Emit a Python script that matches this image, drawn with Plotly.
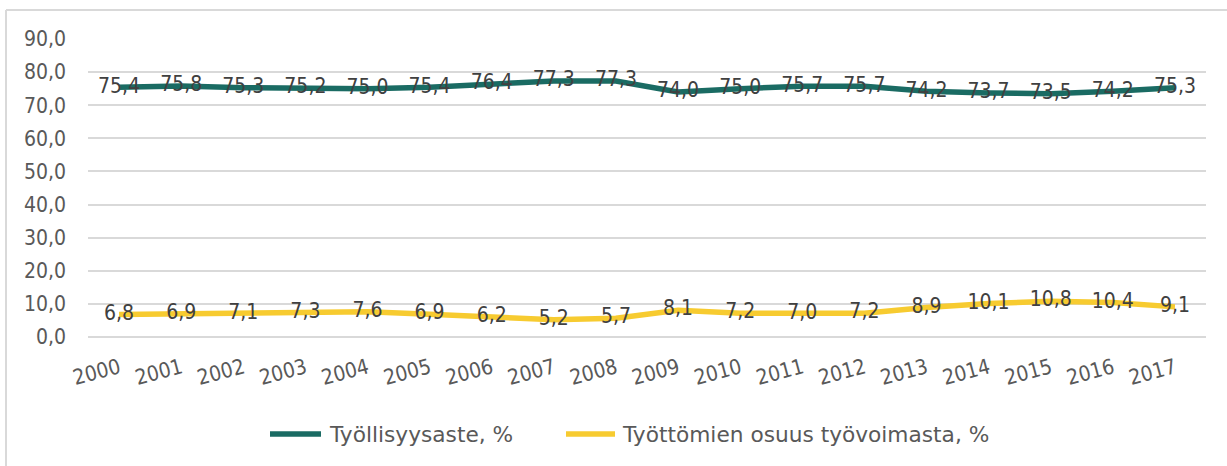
import plotly.graph_objects as go

years = [str(y) for y in range(2000, 2018)]
tyollisyysaste = [75.4, 75.8, 75.3, 75.2, 75.0, 75.4, 76.4, 77.3, 77.3, 74.0,
                  75.0, 75.7, 75.7, 74.2, 73.7, 73.5, 74.2, 75.3]
tyottomat = [6.8, 6.9, 7.1, 7.3, 7.6, 6.9, 6.2, 5.2, 5.7, 8.1,
             7.2, 7.0, 7.2, 8.9, 10.1, 10.8, 10.4, 9.1]
series_names = ["Työllisyysaste, %", "Työttömien osuus työvoimasta, %"]
y_ticks = [0, 10, 20, 30, 40, 50, 60, 70, 80, 90]
y_ticklabels = ["0,0", "10,0", "20,0", "30,0", "40,0", "50,0", "60,0", "70,0", "80,0", "90,0"]

GREEN = "#1a6b63"
YELLOW = "#f7cb30"
FONT = "DejaVu Sans Condensed, Liberation Sans, DejaVu Sans, sans-serif"
LFONT = "DejaVu Sans, Verdana, sans-serif"
FS = 21

def fmt(v):
    return f"{v:.1f}".replace(".", ",")

fig = go.Figure()
for vals, color, name in [(tyollisyysaste, GREEN, series_names[0]),
                          (tyottomat, YELLOW, series_names[1])]:
    fig.add_trace(go.Scatter(
        x=years, y=vals, name=name, mode="lines+text",
        line=dict(color=color, width=5.5),
        text=[fmt(v) for v in vals], textposition="middle center",
        textfont=dict(family=FONT, size=FS, color="#404040"),
        cliponaxis=False, showlegend=False,
    ))

W, H = 1227, 466
L, R, T, B = 88, 1206, 39, 337

def px(x):
    return (x - L) / (R - L)

def py(y):
    return (B - y) / (B - T)

shapes = [
    dict(type="line", xref="paper", yref="paper", x0=px(6), x1=px(1260), y0=py(10), y1=py(10),
         line=dict(color="#d9d9d9", width=2)),
    dict(type="line", xref="paper", yref="paper", x0=px(6), x1=px(6), y0=py(10), y1=py(500),
         line=dict(color="#d9d9d9", width=2)),
]
annotations = []
legend_items = [(267, 324, 327, GREEN, series_names[0]), (563, 618, 620, YELLOW, series_names[1])]
for x0, x1, tx, color, name in legend_items:
    shapes.append(dict(type="line", xref="paper", yref="paper", x0=px(x0 + 3), x1=px(x1 - 3),
                       y0=py(434), y1=py(434),
                       line=dict(color=color, width=5.5), layer="above"))
    annotations.append(dict(xref="paper", yref="paper", x=px(tx), y=py(434), text=name,
                            showarrow=False, xanchor="left", yanchor="middle",
                            font=dict(family=LFONT, size=21.7, color="#595959")))

fig.update_layout(
    width=W, height=H,
    margin=dict(l=L, r=W - R, t=T, b=H - B),
    paper_bgcolor="white", plot_bgcolor="white",
    shapes=shapes, annotations=annotations,
    xaxis=dict(type="category", tickangle=-15, showgrid=False, showline=False, ticks="",
               ticklabelstandoff=14,
               tickfont=dict(family=FONT, size=FS, color="#595959"), range=[-0.5, 17.5]),
    yaxis=dict(range=[0, 90], tickvals=y_ticks, ticktext=y_ticklabels,
               showgrid=True, gridcolor="#d9d9d9", gridwidth=1.5, zeroline=True,
               zerolinecolor="#d9d9d9", zerolinewidth=1.5, showline=False, ticks="",
               ticklabelstandoff=21,
               tickfont=dict(family=FONT, size=FS, color="#595959")),
)

fig.write_html("out.html", config={"displayModeBar": False},
               post_script="document.body.style.margin='0';document.body.style.overflow='hidden';")
